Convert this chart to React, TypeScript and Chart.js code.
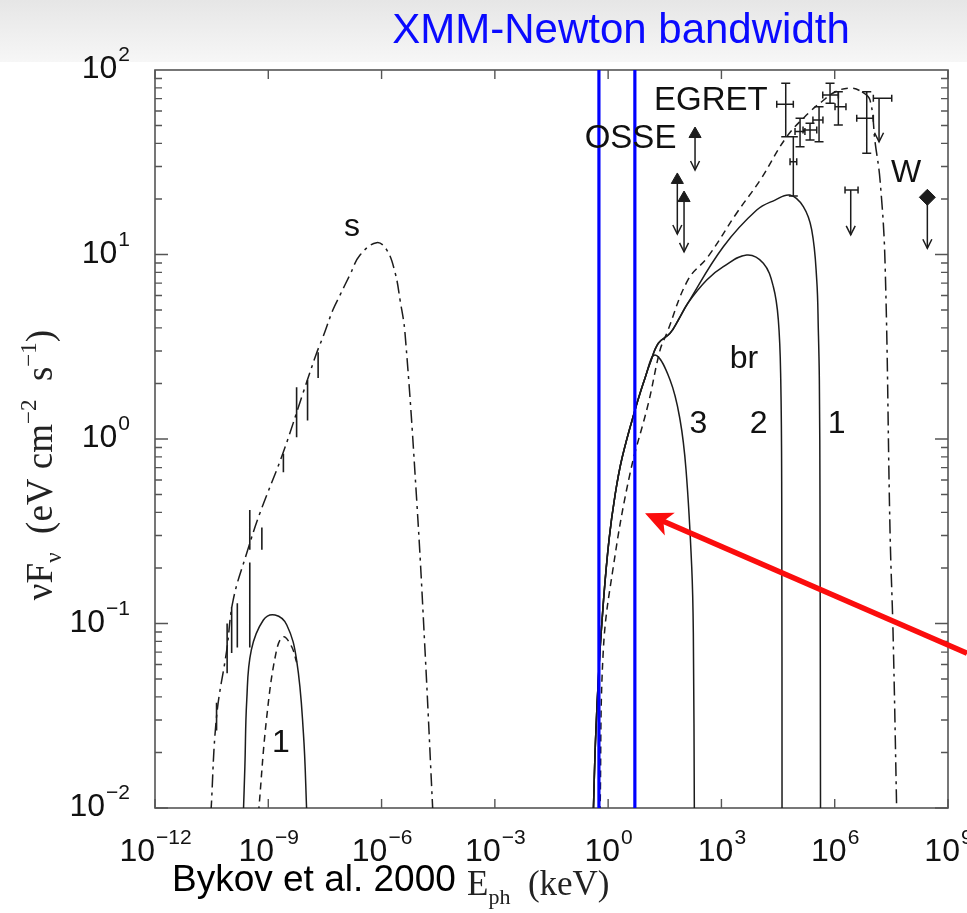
import { useEffect, useRef } from 'react';
import { Chart, registerables } from 'chart.js';

Chart.register(...registerables);

const CANVAS_W = 967;
const CANVAS_H = 913;

// Axis ranges: photon energy (keV) and nuF_nu (eV cm^-2 s^-1)
const xMin = 1e-12;
const xMax = 1e9;
const yMin = 1e-2;
const yMax = 1e2;
const xTickExponents = [-12, -9, -6, -3, 0, 3, 6, 9];
const yTickExponents = [-2, -1, 0, 1, 2];

// XMM-Newton band edges (keV)
const xmmBandKeV = [0.57, 5.1];

// All curve values below are log10(E/keV) and log10(nuF_nu)
// Synchrotron "s" (dash-dot)
const synchLogE = [-10.52, -10.37, -10.10, -9.93, -9.57, -9.22, -8.61, -8.08, -7.72, -7.55, -7.29, -7.10, -6.84, -6.57, -6.13, -5.86, -5.64, -5.51, -5.38, -5.07, -4.85, -4.64];
const synchLogF = [-2.03, -1.505, -1.144, -0.873, -0.618, -0.401, -0.076, 0.249, 0.466, 0.554, 0.699, 0.780, 0.889, 0.997, 1.064, 1.024, 0.900, 0.753, 0.575, -0.331, -1.144, -2.03];

// Low-energy component "1" (solid) and its dashed companion
const lowSolidLogE = [-9.66, -9.62, -9.57, -9.45, -9.13, -8.82, -8.51, -8.25, -8.07, -7.98];
const lowSolidLogF = [-2.03, -1.776, -1.415, -1.144, -0.981, -0.954, -1.008, -1.198, -1.594, -2.03];
const lowDashLogE = [-9.26, -9.04, -8.78, -8.60, -8.38, -8.25];
const lowDashLogF = [-2.03, -1.505, -1.144, -1.072, -1.126, -1.21];

// High-energy dashed / dash-dot component
const pionLogE = [-0.215, -0.128, 0.137, 0.580, 1.065, 1.375, 1.552, 2.113, 2.643, 3.405, 4.029, 4.729, 5.346, 5.656, 6.011, 6.408, 6.724, 6.935, 7.068, 7.200, 7.333, 7.466, 7.545, 7.643];
const pionLogF = [-2.03, -1.144, -0.692, -0.186, 0.193, 0.482, 0.573, 0.862, 0.988, 1.225, 1.404, 1.638, 1.774, 1.828, 1.881, 1.902, 1.881, 1.837, 1.611, 1.404, 0.954, -0.510, -1.051, -2.03];

// Bremsstrahlung curves "br" 3, 2, 1 (solid)
const brem3LogE = [-0.393, -0.334, -0.242, -0.122, 0.023, 0.183, 0.368, 0.712, 0.977, 1.242, 1.640, 1.905, 2.063, 2.213, 2.256, 2.283];
const brem3LogF = [-2.03, -1.631, -1.236, -0.873, -0.547, -0.304, -0.103, 0.157, 0.331, 0.455, 0.320, 0.103, -0.168, -0.692, -1.051, -2.03];
const brem2LogE = [-0.393, -0.334, -0.242, -0.122, 0.023, 0.183, 0.368, 0.712, 0.977, 1.109, 1.329, 1.639, 1.859, 2.113, 2.611, 3.050, 3.670, 4.110, 4.375, 4.507, 4.571, 4.597, 4.605];
const brem2LogF = [-2.03, -1.631, -1.236, -0.873, -0.547, -0.304, -0.103, 0.157, 0.331, 0.410, 0.519, 0.573, 0.645, 0.737, 0.862, 0.934, 0.997, 0.952, 0.825, 0.645, 0.320, -0.331, -2.03];
const brem1LogE = [-0.393, -0.334, -0.242, -0.122, 0.023, 0.183, 0.368, 0.712, 0.977, 1.109, 1.329, 1.639, 1.859, 2.113, 3.050, 3.935, 4.420, 4.813, 5.169, 5.391, 5.524, 5.566, 5.593, 5.610, 5.624];
const brem1LogF = [-2.03, -1.631, -1.236, -0.873, -0.547, -0.304, -0.103, 0.157, 0.331, 0.410, 0.519, 0.573, 0.645, 0.737, 1.042, 1.241, 1.295, 1.322, 1.259, 1.133, 0.862, 0.591, 0.320, -0.331, -2.03];

// Radio / optical data bars along the synchrotron curve
const radioLogE = [-10.37, -10.09, -9.97, -9.82, -9.49, -9.49, -9.17, -8.60, -8.25, -7.96, -7.68];
const radioLogFlo = [-1.58, -1.27, -1.16, -1.13, -1.13, -0.60, -0.60, -0.18, 0.01, 0.10, 0.33];
const radioLogFhi = [-1.43, -1.00, -0.91, -0.89, -0.67, -0.385, -0.48, -0.08, 0.28, 0.32, 0.47];

// EGRET points
const egretLogE = [4.703, 4.904, 5.082, 5.346, 5.585, 5.876, 6.096, 6.848];
const egretLogF = [1.814, 1.503, 1.666, 1.675, 1.729, 1.864, 1.801, 1.738];
const egretLogFlo = [1.638, 1.317, 1.584, 1.621, 1.611, 1.820, 1.702, 1.549];
const egretLogFhi = [1.928, 1.638, 1.738, 1.711, 1.801, 1.928, 1.882, 1.882];
const egretLogElo = [4.465, 4.817, 4.949, 5.161, 5.423, 5.683, 6.008, 6.583];
const egretLogEhi = [4.904, 4.994, 5.211, 5.524, 5.688, 6.096, 6.298, 7.023];

// EGRET upper limits
const ulLogE = [6.424, 7.174];
const ulLogF = [1.350, 1.847];
const ulLogFarrow = [1.106, 1.611];
const ulLogElo = [6.273, 7.023];
const ulLogEhi = [6.618, 7.510];

// OSSE points (triangles with downward arrows)
const osseLogE = [2.301, 1.832, 2.010];
const osseLogF = [1.653, 1.404, 1.306];
const osseLogFarrow = [1.458, 1.111, 1.014];

// Whipple "W" point (diamond with downward arrow)
const whippleLogE = [8.453];
const whippleLogF = [1.310];
const whippleLogFarrow = [1.034];

// Text annotations (anchored in data coordinates: centre x, baseline y)
const noteTexts = ['s', 'EGRET', 'OSSE', 'W', 'br', '3', '2', '1', '1'];
const noteLogE = [-6.783, 2.719, 0.593, 7.889, 3.598, 2.389, 3.988, 6.053, -8.668];
const noteLogF = [1.100, 1.783, 1.577, 1.393, 0.385, 0.033, 0.033, 0.033, -1.697];

// Red pointer arrow (tail -> tip), log10 coordinates
const pointerTail = [9.504, -1.161];
const pointerTip = [0.977, -0.403];

const p10 = (v: number) => Math.pow(10, v);
const curve = (le: number[], lf: number[]) => le.map((e, i) => ({ x: p10(e), y: p10(lf[i]) }));
const vbars = (le: number[], lo: number[], hi: number[]) =>
  le.flatMap((e, i) => [
    { x: p10(e), y: p10(lo[i]) },
    { x: p10(e), y: p10(hi[i]) },
    { x: p10(e), y: null as any },
  ]);
const hbars = (elo: number[], ehi: number[], lf: number[]) =>
  lf.flatMap((f, i) => [
    { x: p10(elo[i]), y: p10(f) },
    { x: p10(ehi[i]), y: p10(f) },
    { x: p10(ehi[i]), y: null as any },
  ]);

const INK = '#1c1c1c';
const SANS = '"Liberation Sans", Arial, Helvetica, sans-serif';
const SERIF = '"Liberation Serif", "Times New Roman", serif';

function drawPow(ctx: CanvasRenderingContext2D, exp: number, x: number, y: number, align: 'center' | 'right') {
  const base = '10';
  const e = exp < 0 ? '\u2212' + Math.abs(exp) : String(exp);
  ctx.font = `32px ${SANS}`;
  const wb = ctx.measureText(base).width;
  ctx.font = `21px ${SANS}`;
  const we = ctx.measureText(e).width;
  const total = wb + we;
  const left = align === 'center' ? x - total / 2 : x - total;
  ctx.textAlign = 'left';
  ctx.textBaseline = 'alphabetic';
  ctx.font = `32px ${SANS}`;
  ctx.fillText(base, left, y + 11);
  ctx.font = `21px ${SANS}`;
  ctx.fillText(e, left + wb + 1, y - 6);
}

function drawPieces(ctx: CanvasRenderingContext2D, pieces: [string, string][], startX: number, baseY: number, size: number, family: string) {
  let cx = startX;
  for (const [t, kind] of pieces) {
    const s = kind === 'n' ? size : Math.round(size * 0.62);
    ctx.font = `${s}px ${family}`;
    const dy = kind === 'sup' ? -size * 0.42 : kind === 'sub' ? size * 0.25 : 0;
    ctx.fillText(t, cx, baseY + dy);
    cx += ctx.measureText(t).width;
  }
  return cx - startX;
}

function measurePieces(ctx: CanvasRenderingContext2D, pieces: [string, string][], size: number, family: string) {
  let w = 0;
  for (const [t, kind] of pieces) {
    const s = kind === 'n' ? size : Math.round(size * 0.62);
    ctx.font = `${s}px ${family}`;
    w += ctx.measureText(t).width;
  }
  return w;
}

const overlayPlugin = {
  id: 'overlay',
  beforeDraw(chart: any) {
    const ctx = chart.ctx as CanvasRenderingContext2D;
    ctx.save();
    ctx.fillStyle = '#ffffff';
    ctx.fillRect(0, 0, CANVAS_W, CANVAS_H);
    const g = ctx.createLinearGradient(0, 0, 0, 64);
    g.addColorStop(0, '#e6e6e6');
    g.addColorStop(1, '#f7f7f7');
    ctx.fillStyle = g;
    ctx.fillRect(0, 0, CANVAS_W, 62);
    ctx.restore();
  },
  beforeDatasetsDraw(chart: any) {
    const ctx = chart.ctx as CanvasRenderingContext2D;
    const a = chart.chartArea;
    const xs = chart.scales.x;
    const ys = chart.scales.y;
    ctx.save();
    ctx.strokeStyle = '#555555';
    ctx.lineWidth = 1.6;
    ctx.strokeRect(a.left, a.top, a.right - a.left, a.bottom - a.top);
    ctx.lineWidth = 1.4;
    ctx.beginPath();
    for (const e of xTickExponents) {
      const px = xs.getPixelForValue(p10(e));
      ctx.moveTo(px, a.bottom);
      ctx.lineTo(px, a.bottom - 9);
      ctx.moveTo(px, a.top);
      ctx.lineTo(px, a.top + 9);
    }
    for (let d = -2; d <= 1; d++) {
      for (let m = 1; m <= 9; m++) {
        const py = ys.getPixelForValue(m * p10(d));
        const len = m === 1 ? 13 : 7;
        ctx.moveTo(a.left, py);
        ctx.lineTo(a.left + len, py);
        ctx.moveTo(a.right, py);
        ctx.lineTo(a.right - len, py);
      }
    }
    ctx.stroke();
    ctx.restore();
  },
  afterDatasetsDraw(chart: any) {
    const ctx = chart.ctx as CanvasRenderingContext2D;
    const xs = chart.scales.x;
    const ys = chart.scales.y;
    const X = (le: number) => xs.getPixelForValue(p10(le));
    const Y = (lf: number) => ys.getPixelForValue(p10(lf));
    ctx.save();
    ctx.strokeStyle = INK;
    ctx.fillStyle = INK;
    ctx.lineWidth = 1.5;
    ctx.beginPath();
    // EGRET caps
    egretLogE.forEach((e, i) => {
      const px = X(e);
      for (const f of [egretLogFlo[i], egretLogFhi[i]]) {
        const py = Y(f);
        ctx.moveTo(px - 4.5, py);
        ctx.lineTo(px + 4.5, py);
      }
      const py = Y(egretLogF[i]);
      for (const ee of [egretLogElo[i], egretLogEhi[i]]) {
        const qx = X(ee);
        ctx.moveTo(qx, py - 3.5);
        ctx.lineTo(qx, py + 3.5);
      }
    });
    // upper-limit caps and arrowheads
    const arrowHead = (px: number, py: number) => {
      ctx.moveTo(px - 4.5, py - 9);
      ctx.lineTo(px, py);
      ctx.lineTo(px + 4.5, py - 9);
    };
    ulLogE.forEach((e, i) => {
      const py = Y(ulLogF[i]);
      for (const ee of [ulLogElo[i], ulLogEhi[i]]) {
        const qx = X(ee);
        ctx.moveTo(qx, py - 3.5);
        ctx.lineTo(qx, py + 3.5);
      }
      arrowHead(X(e), Y(ulLogFarrow[i]));
    });
    osseLogE.forEach((e, i) => arrowHead(X(e), Y(osseLogFarrow[i])));
    whippleLogE.forEach((e, i) => arrowHead(X(e), Y(whippleLogFarrow[i])));
    ctx.stroke();

    // annotations
    ctx.fillStyle = '#111111';
    ctx.textAlign = 'center';
    ctx.textBaseline = 'alphabetic';
    noteTexts.forEach((t, i) => {
      ctx.font = `${t === 'EGRET' || t === 'OSSE' ? 33 : 32}px ${SANS}`;
      ctx.fillText(t, X(noteLogE[i]), Y(noteLogF[i]));
    });

    // red pointer arrow
    const tx = X(pointerTail[0]);
    const ty = Y(pointerTail[1]);
    const hx = X(pointerTip[0]);
    const hy = Y(pointerTip[1]);
    const dx = tx - hx;
    const dy = ty - hy;
    const L = Math.hypot(dx, dy);
    const ux = dx / L;
    const uy = dy / L;
    const nx = -uy;
    const ny = ux;
    ctx.strokeStyle = '#fb0d0d';
    ctx.fillStyle = '#fb0d0d';
    ctx.lineWidth = 5.5;
    ctx.beginPath();
    ctx.moveTo(tx, ty);
    ctx.lineTo(hx + ux * 18, hy + uy * 18);
    ctx.stroke();
    ctx.beginPath();
    ctx.moveTo(hx, hy);
    ctx.lineTo(hx + ux * 27 + nx * 12.5, hy + uy * 27 + ny * 12.5);
    ctx.lineTo(hx + ux * 20, hy + uy * 20);
    ctx.lineTo(hx + ux * 27 - nx * 12.5, hy + uy * 27 - ny * 12.5);
    ctx.closePath();
    ctx.fill();
    ctx.restore();
  },
  afterDraw(chart: any) {
    const ctx = chart.ctx as CanvasRenderingContext2D;
    const a = chart.chartArea;
    const xs = chart.scales.x;
    const ys = chart.scales.y;
    ctx.save();
    ctx.fillStyle = '#111111';
    // x tick labels
    for (const e of xTickExponents) {
      drawPow(ctx, e, xs.getPixelForValue(p10(e)), a.bottom + 42, 'center');
    }
    // y tick labels
    for (const e of yTickExponents) {
      drawPow(ctx, e, 129, ys.getPixelForValue(p10(e)) - 3, 'right');
    }
    // x axis title
    ctx.fillStyle = '#222222';
    ctx.textAlign = 'left';
    ctx.textBaseline = 'alphabetic';
    drawPieces(ctx, [['E', 'n'], ['ph', 'sub'], ['  (keV)', 'n']], 467, 895, 35, SERIF);
    // y axis title (rotated)
    const yPieces: [string, string][] = [
      ['\u03bdF', 'n'], ['\u03bd', 'sub'], ['  (eV cm', 'n'], ['\u22122', 'sup'], ['  s', 'n'], ['\u22121', 'sup'], [')', 'n'],
    ];
    const wy = measurePieces(ctx, yPieces, 37, SERIF);
    ctx.save();
    ctx.translate(52, 465);
    ctx.rotate(-Math.PI / 2);
    drawPieces(ctx, yPieces, -wy / 2, 0, 37, SERIF);
    ctx.restore();
    // slide texts
    ctx.fillStyle = '#0a0aff';
    ctx.textAlign = 'center';
    ctx.font = `42px ${SANS}`;
    ctx.fillText('XMM-Newton bandwidth', 621, 43);
    ctx.fillStyle = '#000000';
    ctx.textAlign = 'left';
    ctx.font = `37px ${SANS}`;
    ctx.fillText('Bykov et al. 2000', 172, 891);
    ctx.restore();
  },
};

export default function App() {
  const canvasRef = useRef<HTMLCanvasElement | null>(null);

  useEffect(() => {
    const canvas = canvasRef.current;
    if (!canvas) return;
    const line = (data: any[], extra: any = {}) => ({
      data,
      borderColor: INK,
      backgroundColor: INK,
      borderWidth: 1.5,
      pointRadius: 0,
      fill: false,
      tension: 0,
      spanGaps: false,
      ...extra,
    });
    const smooth = { tension: 0.4 };
    const datasets: any[] = [
      // XMM band (drawn on top: first dataset)
      line([{ x: xmmBandKeV[0], y: yMin }, { x: xmmBandKeV[0], y: yMax }], { borderColor: '#0000ff', borderWidth: 3.2 }),
      line([{ x: xmmBandKeV[1], y: yMin }, { x: xmmBandKeV[1], y: yMax }], { borderColor: '#0000ff', borderWidth: 3.2 }),
      // data points
      line(curve(osseLogE, osseLogF), { showLine: false, pointRadius: 7, pointStyle: 'triangle', pointBackgroundColor: INK, pointBorderColor: INK, pointBorderWidth: 1 }),
      line(curve(whippleLogE, whippleLogF), { showLine: false, pointRadius: 8, pointStyle: 'rectRot', pointBackgroundColor: INK, pointBorderColor: INK, pointBorderWidth: 1 }),
      line(vbars(osseLogE, osseLogFarrow, osseLogF)),
      line(vbars(whippleLogE, whippleLogFarrow, whippleLogF)),
      line(vbars(ulLogE, ulLogFarrow, ulLogF)),
      line(hbars(ulLogElo, ulLogEhi, ulLogF)),
      line(vbars(egretLogE, egretLogFlo, egretLogFhi)),
      line(hbars(egretLogElo, egretLogEhi, egretLogF)),
      line(vbars(radioLogE, radioLogFlo, radioLogFhi), { borderWidth: 1.6 }),
      // model curves
      line(curve(brem1LogE, brem1LogF), smooth),
      line(curve(brem2LogE, brem2LogF), smooth),
      line(curve(brem3LogE, brem3LogF), smooth),
      line(curve(pionLogE, pionLogF), {
        ...smooth,
        borderDash: [7, 5],
        segment: { borderDash: (c: any) => (c.p0.parsed.x >= 3e6 ? [14, 5, 3, 5] : [7, 5]) },
      }),
      line(curve(lowSolidLogE, lowSolidLogF), smooth),
      line(curve(lowDashLogE, lowDashLogF), { ...smooth, borderDash: [7, 5] }),
      line(curve(synchLogE, synchLogF), { ...smooth, borderDash: [13, 5, 3, 5] }),
    ];

    const chart = new Chart(canvas, {
      type: 'line',
      data: { datasets },
      options: {
        animation: false,
        responsive: false,
        devicePixelRatio: 1,
        events: [],
        layout: { padding: { left: 155, right: 19, top: 70, bottom: 105 } },
        plugins: { legend: { display: false }, tooltip: { enabled: false }, title: { display: false } },
        scales: {
          x: { type: 'logarithmic', min: xMin, max: xMax, display: false },
          y: { type: 'logarithmic', min: yMin, max: yMax, display: false },
        },
      },
      plugins: [overlayPlugin],
    } as any);

    return () => chart.destroy();
  }, []);

  return (
    <div style={{ position: 'absolute', left: 0, top: 0, width: CANVAS_W, height: CANVAS_H, background: '#ffffff' }}>
      <canvas ref={canvasRef} width={CANVAS_W} height={CANVAS_H} style={{ display: 'block', width: CANVAS_W, height: CANVAS_H }} />
    </div>
  );
}
